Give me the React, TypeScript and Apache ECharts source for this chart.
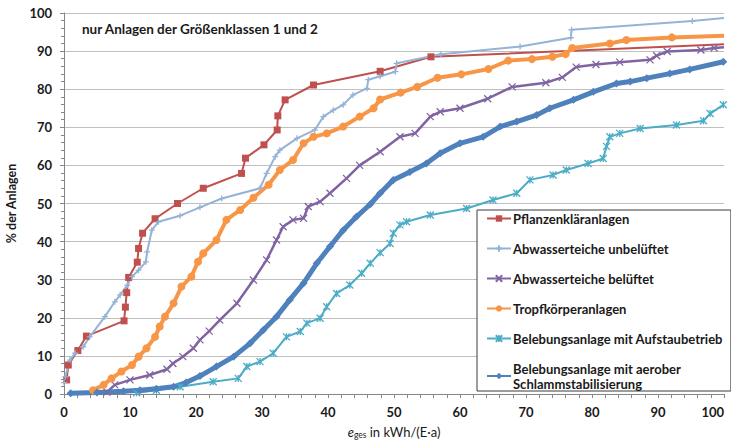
import React, { useEffect, useRef } from "react";
import * as echarts from "echarts";

const titleText = "nur Anlagen der Größenklassen 1 und 2";
const seriesNames = [
  "Pflanzenkläranlagen",
  "Abwasserteiche unbelüftet",
  "Abwasserteiche belüftet",
  "Tropfkörperanlagen",
  "Belebungsanlage mit Aufstaubetrieb",
  "Belebungsanlage mit aerober\nSchlammstabilisierung",
];

const pflanzen: number[][] = [
  [0.4, 3.7], [0.65, 7.6], [2.1, 11.4], [3.4, 15.2], [9.1, 19.2], [9.3, 22.8], [9.5, 26.6],
  [9.8, 30.6], [11.1, 34.6], [11.3, 38.2], [11.9, 42.2], [13.8, 46], [17.2, 50], [21.1, 54],
  [26.9, 57.9], [27.5, 61.9], [30.3, 65.4], [32.3, 69.3], [32.4, 73], [33.5, 77.2], [37.8, 81.1],
  [47.9, 84.7], [55.6, 88.5], [100, 91.8],
];

const unbelueftet: number[][] = [
  [0, 3], [0.2, 4.5], [0.9, 8.9], [1.7, 10.7], [2.9, 12.4], [3.9, 15], [6.2, 20.3], [7.7, 24.2],
  [8.5, 26], [9.6, 28.6], [10.3, 30.8], [11.3, 32.5], [12.4, 34.7], [12.6, 37.3], [13.3, 43],
  [14.3, 45.2], [17.6, 46.8], [20.6, 49], [23.9, 51.3], [29.7, 54], [30.7, 57.9], [32, 62.3],
  [32.7, 64], [35.3, 67.1], [38, 69.3], [39.3, 72.8], [40.8, 74.5], [42.3, 75.9], [43.8, 78.5],
  [45.9, 80.2], [46.1, 82.5], [47.9, 83.4], [50.2, 84.6], [50.4, 86.8], [57.1, 89.2], [69.1, 91.2],
  [76.8, 93.5], [76.9, 95.6], [95.2, 97.9], [100, 98.7],
];

const belueftet: number[][] = [
  [6.5, 0.5], [7.7, 2.4], [10, 3.7], [13, 5], [15.6, 6.5], [16.5, 8], [18, 9.8], [19.6, 12],
  [20.6, 14.2], [22, 16.5], [23.6, 19.4], [26.2, 23.8], [28.7, 29.9], [30.7, 35.2], [32.2, 40.4],
  [33.2, 43.9], [34.7, 45.7], [36.3, 46.1], [37, 49.2], [38.8, 50.5], [40.3, 52.7], [42.8, 56.6],
  [44.8, 60], [47.9, 63.6], [50.9, 67.5], [53.2, 68.4], [55.5, 72.8], [57, 74.1], [60, 75],
  [64.2, 77.5], [67.9, 80.6], [73, 81.7], [75.5, 83.1], [77.6, 85.8], [80.6, 86.5], [84.2, 87.1],
  [88.8, 87.7], [89.8, 88.8], [91.4, 89.9], [96.5, 90.3], [98.5, 90.8], [100, 91],
];

const tropf: number[][] = [
  [4.4, 1], [6, 2.4], [7.2, 4.1], [8.7, 5.9], [10.3, 7.6], [11.3, 9.8], [12.5, 12], [13.8, 15],
  [14.5, 17.7], [15.3, 20.3], [16.6, 23.8], [17.8, 28.2], [19.3, 30.8], [20.3, 34.7], [21.1, 36.9],
  [23.1, 40.4], [24.6, 45.7], [26.7, 48.3], [28.7, 51.5], [31, 54.9], [32.7, 58.8], [34.7, 61.4],
  [36.3, 65.8], [37.8, 67.5], [39.8, 68.4], [42.3, 70.2], [44.8, 72.8], [46.9, 75], [47.9, 77.3],
  [51, 79.1], [53.5, 80.6], [56.6, 83], [60.2, 83.9], [64.3, 85.3], [67.3, 87.5], [70.9, 87.9],
  [74, 88.5], [76, 89.2], [77, 90.8], [82.7, 92], [85.2, 92.9], [92.1, 93.6], [100, 94],
];

const aufstau: number[][] = [
  [11, 0.3], [14, 1], [17.6, 1.9], [22.6, 3.2], [26.4, 4.1], [27.7, 7.2], [29.7, 8.5], [31.7, 10.7],
  [33.7, 15], [35.8, 16.4], [36.8, 18.6], [38.8, 19.9], [39.8, 22.9], [41.3, 26.4], [43.3, 28.6],
  [45.1, 31.7], [46.4, 34.3], [47.9, 37.1], [49.4, 39.5], [49.9, 42.2], [50.9, 44.4], [51.9, 45.2],
  [55.5, 47], [61, 48.7], [65, 50.9], [68.6, 52.7], [70.6, 56.2], [74.1, 57.5], [76.1, 58.8],
  [79.4, 60.5], [81.7, 61.8], [82.2, 65], [82.7, 67.5], [84.2, 68.4], [87.3, 69.7], [92.8, 70.6],
  [96.9, 71.7], [97.9, 73.6], [99.9, 75.9],
];

const aerob: number[][] = [
  [1, 0.2], [5, 0.4], [9, 0.7], [11.5, 1], [14, 1.4], [16.6, 1.9], [18.5, 3], [20.6, 4.7],
  [23.1, 7.2], [25.7, 9.8], [28.2, 13.3], [30.2, 16.8], [32.2, 20.3], [34.2, 24.7], [36.3, 29.1],
  [38.3, 34.3], [40.3, 38.7], [42.3, 43], [44.3, 46.5], [46.4, 49.8], [47.9, 52.7], [49.9, 56.2],
  [52.4, 58.3], [54.9, 60.5], [57, 63.2], [60, 65.8], [63.5, 67.5], [66.1, 70.2], [68.6, 71.5],
  [71.6, 73.2], [73.6, 75], [77.2, 77.2], [80.2, 79.3], [83.7, 81.5], [85.8, 82], [88.3, 82.9],
  [91.8, 84.1], [94.8, 85.2], [99.9, 87.2],
];

const FONT = "Lato";
const TXT = "#1a1a1a";

const PLUS = "path://M5,0L5,10M0,5L10,5";
const CROSS = "path://M0,0L10,10M10,0L0,10";
const STAR = "path://M0,0L10,10M10,0L0,10M5,0L5,10";

function lastNoSymbol(d: number[][]) {
  return d.map((p, i) => (i === d.length - 1 ? { value: p, symbol: "none" } : p));
}

export default function App() {
  const ref = useRef<HTMLDivElement>(null);
  useEffect(() => {
    if (!ref.current) return;
    const chart = echarts.init(ref.current, undefined, { renderer: "svg" });
    const mk = (
      name: string,
      data: any[],
      color: string,
      symbol: string,
      size: number,
      width: number,
      stroke: boolean
    ) => ({
      name,
      type: "line",
      data,
      symbol,
      symbolSize: size,
      symbolKeepAspect: true,
      showSymbol: true,
      clip: true,
      z: 2,
      lineStyle: { color, width },
      itemStyle: stroke
        ? { color, borderColor: color, borderWidth: 1.3 }
        : { color, borderColor: color, borderWidth: 0 },
    });
    chart.setOption({
      animation: false,
      backgroundColor: "#fff",
      title: {
        text: titleText,
        left: 82,
        top: 22,
        padding: 0,
        textStyle: { fontFamily: FONT, fontWeight: "bold", fontSize: 13.5, color: TXT },
      },
      grid: { left: 64, right: 7, top: 13, bottom: 50, containLabel: false, outerBoundsMode: "none" },
      legend: {
        orient: "vertical",
        left: 477,
        top: 210,
        itemGap: 15,
        itemWidth: 24,
        itemHeight: 8,
        padding: [1, 8, 0, 9],
        borderColor: "#3a3a3a",
        borderWidth: 1,
        backgroundColor: "#fff",
        textStyle: {
          fontFamily: FONT,
          fontWeight: "bold",
          fontSize: 13,
          lineHeight: 15,
          color: TXT,
          padding: [0, 0, 0, -3],
        },
        data: seriesNames,
      },
      xAxis: {
        type: "value",
        min: 0,
        max: 100,
        interval: 10,
        name: "{e|e}{sub|ges}{t| in kWh/(E·a)}",
        nameLocation: "middle",
        nameGap: 30,
        nameTextStyle: {
          rich: {
            e: { fontFamily: FONT, fontStyle: "italic", fontSize: 13, color: TXT },
            sub: { fontFamily: FONT, fontSize: 8.5, color: TXT, verticalAlign: "bottom", padding: [6, 0, 0, 0] },
            t: { fontFamily: FONT, fontSize: 13, color: TXT },
          },
        },
        axisLine: { show: true, lineStyle: { color: "#868686", width: 1 } },
        axisTick: { show: true, length: 4, lineStyle: { color: "#868686" } },
        minorTick: { show: true, splitNumber: 5, length: 4, lineStyle: { color: "#868686" } },
        splitLine: { show: false },
        axisLabel: {
          fontFamily: FONT,
          fontWeight: "bold",
          fontSize: 13,
          color: TXT,
          margin: 11,
          alignMaxLabel: "right",
        },
      },
      yAxis: {
        type: "value",
        min: 0,
        max: 100,
        interval: 10,
        name: "% der Anlagen",
        nameLocation: "middle",
        nameGap: 41,
        nameRotate: 90,
        nameTextStyle: { fontFamily: FONT, fontWeight: "bold", fontSize: 12.5, color: TXT },
        axisLine: { show: true, lineStyle: { color: "#868686", width: 1 } },
        axisTick: { show: true, length: 4, lineStyle: { color: "#868686" } },
        minorTick: { show: true, splitNumber: 5, length: 3, lineStyle: { color: "#868686" } },
        splitLine: { show: true, lineStyle: { color: "#bfbfbf", width: 1 } },
        axisLabel: { fontFamily: FONT, fontWeight: "bold", fontSize: 13, color: TXT, margin: 12 },
      },
      series: [
        mk(seriesNames[0], lastNoSymbol(pflanzen), "#C0504D", "rect", 7, 2, false),
        mk(seriesNames[1], lastNoSymbol(unbelueftet), "#95B3D7", PLUS, 6, 2, true),
        mk(seriesNames[2], lastNoSymbol(belueftet), "#8064A2", CROSS, 7, 2.5, true),
        mk(seriesNames[3], lastNoSymbol(tropf), "#F79646", "circle", 8, 4, false),
        mk(seriesNames[4], aufstau, "#4BACC6", STAR, 7, 2, true),
        mk(seriesNames[5], aerob, "#4F81BD", "diamond", 8, 5, false),
      ],
    });
    return () => chart.dispose();
  }, []);
  return (
    <div
      ref={ref}
      style={{ position: "absolute", left: 0, top: 0, width: 731, height: 444, background: "#fff" }}
    />
  );
}
